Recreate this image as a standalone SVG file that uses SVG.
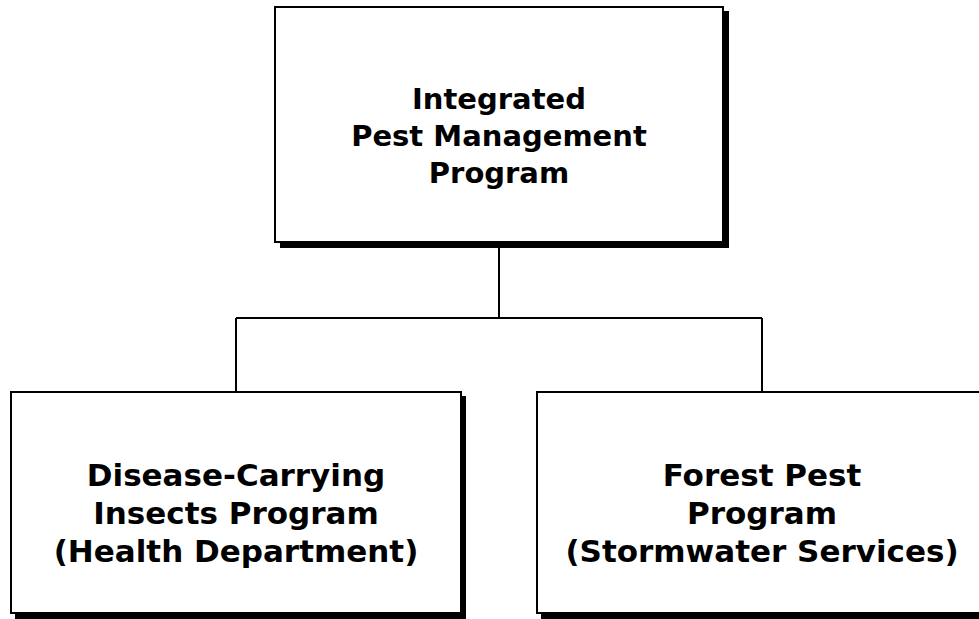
<svg xmlns="http://www.w3.org/2000/svg" width="979" height="619" viewBox="0 0 979 619">
<style>
.shadow{fill:#000}
.box{fill:#fff;stroke:#000;stroke-width:2}
.conn{fill:none;stroke:#000;stroke-width:2}
.t{font-family:"DejaVu Sans",Verdana,sans-serif;font-weight:bold;text-anchor:middle;fill:#000}
.tt{font-size:29px}
.tb{font-size:31px}
</style>
<rect width="979" height="619" fill="#fff"/>
<g id="connectors">
<path class="conn" d="M499,248 V318 M236,318 H762 M236,318 V392 M762,318 V392"/>
</g>
<g id="node-top">
<rect class="shadow" x="280" y="11" width="449" height="237"/>
<rect class="box" x="275" y="7" width="448" height="235"/>
<text class="t tt" x="499" y="109">Integrated</text>
<text class="t tt" x="499" y="146">Pest Management</text>
<text class="t tt" x="499" y="183">Program</text>
</g>
<g id="node-left">
<rect class="shadow" x="15" y="396" width="451" height="223"/>
<rect class="box" x="11" y="392" width="450" height="221"/>
<text class="t tb" x="236" y="486">Disease-Carrying</text>
<text class="t tb" x="236" y="524">Insects Program</text>
<text class="t tb" x="236" y="562">(Health Department)</text>
</g>
<g id="node-right">
<rect class="shadow" x="541" y="396" width="451" height="223"/>
<rect class="box" x="537" y="392" width="450" height="221"/>
<text class="t tb" x="762" y="486">Forest Pest</text>
<text class="t tb" x="762" y="524">Program</text>
<text class="t tb" x="762" y="562">(Stormwater Services)</text>
</g>
</svg>
